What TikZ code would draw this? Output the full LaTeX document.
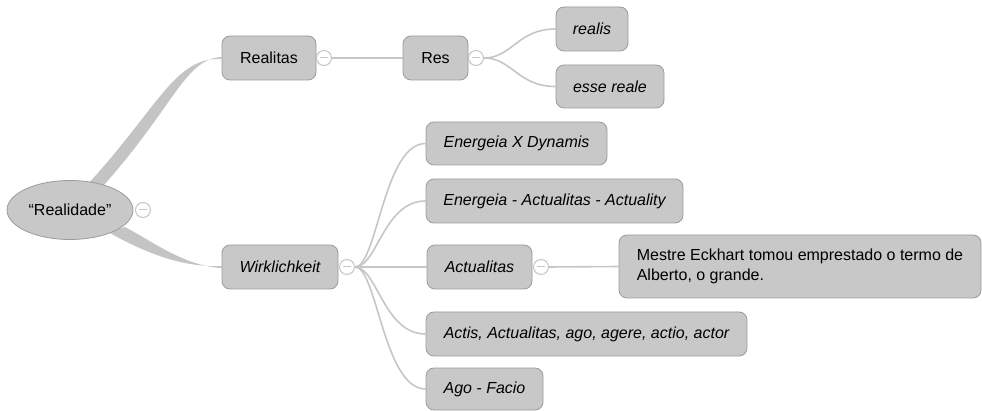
\documentclass[tikz,border=0pt]{standalone}
\usepackage{fontspec}
\setmainfont{Liberation Sans}
\usetikzlibrary{shapes.geometric}
\definecolor{nodefill}{RGB}{200,200,200}
\definecolor{nodeborder}{RGB}{155,155,155}
\definecolor{linkc}{RGB}{198,198,198}
\definecolor{branchc}{RGB}{196,196,196}
\pgfdeclarelayer{bg}
\pgfsetlayers{bg,main}
\begin{document}
\begin{tikzpicture}[x=1pt,y=-1pt,
  topic/.style={draw=nodeborder, fill=nodefill, rounded corners=8pt, inner sep=0pt,
    line width=0.8pt, minimum height=44pt, font=\fontsize{16}{19.5}\selectfont},
  ittopic/.style={topic, font=\fontsize{16}{19.5}\selectfont\itshape},
  knob/.style={circle, draw=linkc, fill=white, line width=1pt, minimum size=15pt, inner sep=0pt,
    path picture={\draw[linkc, line width=1pt]
      ([xshift=-4pt]path picture bounding box.center) -- ([xshift=4pt]path picture bounding box.center);}},
  link/.style={draw=linkc, line width=1.6pt}]
\useasboundingbox (0,0) rectangle (982,411);

% root
\node[ellipse, draw=nodeborder, fill=nodefill, line width=0.8pt, minimum width=126pt, minimum height=59pt,
  inner sep=0pt, font=\fontsize{16}{19.5}\selectfont] (realidade) at (70,210) {“Realidade”};
\node[knob] (k0) at (143,210) {};

% first level
\node[topic, minimum width=94pt] (realitas) at (269,58) {Realitas};
\node[knob] (k1) at (324,58) {};
\node[ittopic, minimum width=116pt] (wirk) at (280,267) {Wirklichkeit};
\node[knob] (k2) at (347,267) {};

% Res branch
\node[topic, minimum width=65pt] (res) at (435.5,58) {Res};
\node[knob] (k3) at (476,58) {};
\node[ittopic, minimum width=72pt] (realis) at (592,29) {realis};
\node[ittopic, minimum width=108pt, minimum height=43pt] (esse) at (610,86.5) {esse reale};

% Wirklichkeit branch
\node[ittopic, minimum width=181pt, minimum height=43pt] (en1) at (516.5,143.5) {Energeia X Dynamis};
\node[ittopic, minimum width=257pt] (en2) at (554.5,201) {Energeia - Actualitas - Actuality};
\node[ittopic, minimum width=105pt] (act) at (479.5,267) {Actualitas};
\node[knob] (k4) at (541,267) {};
\node[topic, minimum width=362pt, minimum height=63pt, align=left]
  (mestre) at (800,266.5) {Mestre Eckhart tomou emprestado o termo de\\Alberto, o grande.};
\node[ittopic, minimum width=321pt] (actis) at (586.5,334) {Actis, Actualitas, ago, agere, actio, actor};
\node[ittopic, minimum width=117pt, minimum height=42pt] (ago) at (484.5,389) {Ago - Facio};

% tapered branches from the root
\coordinate (t1) at (88,184);
\coordinate (t2) at (104,185);
\coordinate (b1) at (108,232);
\coordinate (b2) at (125,227);
\begin{pgfonlayer}{bg}
\fill[branchc] (t1) .. controls (160,105) and (175,57) .. ([yshift=-1pt]realitas.west)
  -- ([yshift=1pt]realitas.west) .. controls (185,59) and (175,105) .. (t2) -- cycle;
\fill[branchc] (b1) .. controls (140,250) and (180,268) .. ([yshift=1pt]wirk.west)
  -- ([yshift=-1pt]wirk.west) .. controls (185,266) and (155,243) .. (b2) -- cycle;
\end{pgfonlayer}

% thin links
\draw[link] (k1.east) -- (res.west);
\draw[link] (k3.east) .. controls +(28,0) and +(-38,0) .. (realis.west);
\draw[link] (k3.east) .. controls +(28,0) and +(-38,0) .. (esse.west);
\draw[link] (k2.east) .. controls +(22,0) and +(-42,0) .. (en1.west);
\draw[link] (k2.east) .. controls +(22,0) and +(-42,0) .. (en2.west);
\draw[link] (k2.east) -- (act.west);
\draw[link] (k2.east) .. controls +(22,0) and +(-42,0) .. (actis.west);
\draw[link] (k2.east) .. controls +(22,0) and +(-42,0) .. (ago.west);
\draw[link] (k4.east) -- (mestre.west);
\end{tikzpicture}
\end{document}
